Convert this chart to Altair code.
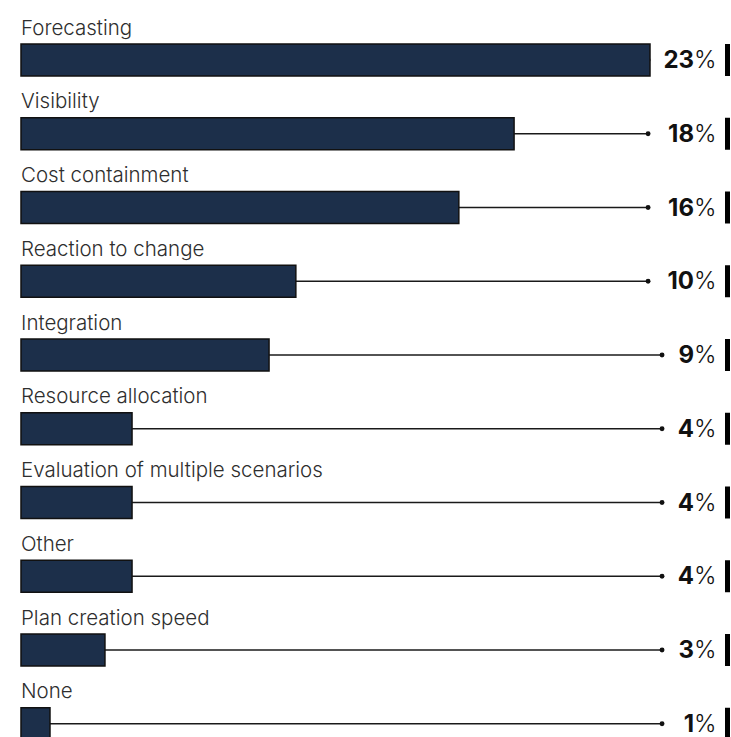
import altair as alt
import pandas as pd

categories = ["Forecasting", "Visibility", "Cost containment", "Reaction to change",
              "Integration", "Resource allocation", "Evaluation of multiple scenarios",
              "Other", "Plan creation speed", "None"]
values = [23.0, 18.03, 16.01, 10.05, 9.07, 4.06, 4.06, 4.06, 3.07, 1.06]
value_labels = ["23", "18", "16", "10", "9", "4", "4", "4", "3", "1"]

df = pd.DataFrame({
    "cat": categories,
    "value": values,
    "label": value_labels,
    "row": list(range(len(categories))),
})

FONT = "Inter"
W, H = 731, 737

xscale = alt.Scale(domain=[0, 23], range=[21, 650], nice=False, zero=True, padding=0)
yscale = alt.Scale(domain=[0, 9], range=[60, 723.75], nice=False, zero=False, padding=0)

base = alt.Chart(df).transform_calculate(
    dotx="length(datum.label) > 1 ? 22.93 : 23.44"
)

y = alt.Y("row:Q", scale=yscale, axis=None)

rule = base.mark_rule(color="#1a1a1a", strokeWidth=1.5).encode(
    x=alt.X("value:Q", scale=xscale, axis=None),
    x2="dotx:Q",
    y=y,
)

dot = base.mark_point(filled=True, size=24, color="#111", opacity=1).encode(
    x=alt.X("dotx:Q", scale=xscale, axis=None),
    y=y,
)

bars = base.mark_bar(orient="horizontal", size=32, color="#1c2f4a",
                     stroke="#111", strokeWidth=1.5).encode(
    x=alt.X("value:Q", scale=xscale, axis=None),
    y=y,
)

cat_text = base.mark_text(align="left", baseline="alphabetic", dy=-25.5,
                          font=FONT, fontSize=20.5, fontWeight=300, color="#2e2e2e").encode(
    x=alt.value(21),
    y=y,
    text="cat:N",
)

num_text = base.mark_text(align="right", baseline="alphabetic", dy=8,
                          font=FONT, fontSize=24, fontWeight="bold", color="#111").encode(
    x=alt.value(694),
    y=y,
    text="label:N",
)

pct_text = base.mark_text(align="left", baseline="alphabetic", dy=8,
                          font=FONT, fontSize=24, fontWeight=300, color="#111").encode(
    x=alt.value(694),
    y=y,
    text=alt.value("%"),
)

end_tick = base.mark_tick(orient="vertical", size=32, thickness=5, color="#000",
                          opacity=1).encode(
    x=alt.value(727.5),
    y=y,
)

chart = alt.layer(rule, dot, bars, cat_text, num_text, pct_text, end_tick).properties(
    width=W, height=H, padding=0, autosize=alt.AutoSizeParams(type="none"),
    background="white",
).configure_view(stroke=None)

chart.save("out.html", embed_options={"renderer": "svg", "actions": False})
